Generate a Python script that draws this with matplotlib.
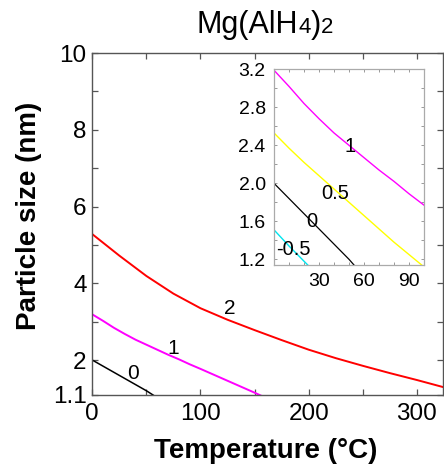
import matplotlib
matplotlib.use('Agg')
import matplotlib.pyplot as plt
from matplotlib.ticker import MultipleLocator, FixedLocator
from matplotlib.textpath import TextToPath
from matplotlib.font_manager import FontProperties

plt.rcParams['font.family'] = ['Liberation Sans', 'DejaVu Sans']

# --- Data ---
# main panel, temperature in degC, particle size in nm
red_x = [0, 25, 50, 75, 100, 125, 150, 175, 200, 225, 250, 275, 300, 325]
red_y = [5.28, 4.72, 4.19, 3.73, 3.35, 3.05, 2.78, 2.52, 2.27, 2.05, 1.85, 1.66, 1.48, 1.29]

mag_x = [0, 10, 20, 30, 40, 50, 60, 70, 80, 90, 100, 125, 150, 160]
mag_y = [3.19, 3.02, 2.84, 2.68, 2.53, 2.40, 2.27, 2.14, 2.02, 1.89, 1.77, 1.46, 1.15, 1.02]

blk_x = [0, 10, 20, 30, 40, 50, 60]
blk_y = [2.00, 1.84, 1.68, 1.52, 1.36, 1.20, 1.02]

# inset only
yel_x = [0, 10, 20, 30, 40, 50, 60, 70, 80, 90, 100]
yel_y = [2.53, 2.37, 2.22, 2.08, 1.94, 1.80, 1.66, 1.52, 1.38, 1.25, 1.12]

cyn_x = [0, 10, 20, 25]
cyn_y = [1.51, 1.34, 1.18, 1.10]

main_labels = [('2', 127, 3.35), ('1', 75, 2.30), ('0', 38, 1.65)]
inset_labels = [('1', 50.7, 2.39), ('0.5', 40.7, 1.89), ('0', 25, 1.60), ('-0.5', 12.7, 1.30)]

W, H = 444, 465
fig = plt.figure(figsize=(W / 100, H / 100), dpi=100)

# --- Main axes ---
ax = fig.add_axes([92.3 / W, 1 - 394.6 / H, (443.3 - 92.3) / W, (394.6 - 53) / H])
ax.plot(red_x, red_y, color='#ff0000', lw=1.4)
ax.plot(mag_x, mag_y, color='#ff00ff', lw=1.4)
ax.plot(blk_x, blk_y, color='black', lw=1.1)
for txt, x, y in main_labels:
    ax.text(x, y, txt, fontsize=15, ha='center', va='center')

ax.set_xlim(0, 324.4)
ax.set_ylim(1.1, 10)
ax.xaxis.set_major_locator(FixedLocator([0, 100, 200, 300]))
ax.xaxis.set_minor_locator(FixedLocator([50, 150, 250]))
ax.yaxis.set_major_locator(FixedLocator([1.1, 2, 4, 6, 8, 10]))
ax.yaxis.set_minor_locator(FixedLocator([3, 5, 7, 9]))
ax.set_yticklabels(['1.1', '2', '4', '6', '8', '10'])
ax.tick_params(which='both', direction='in', top=True, right=True, length=4,
               width=0.9, color='#555555', labelsize=17.5)
ax.tick_params(axis='x', pad=6)
ax.tick_params(axis='y', pad=4)
for s in ax.spines.values():
    s.set_color('#555555')
    s.set_linewidth(1.0)

# --- Inset ---
axi = fig.add_axes([274 / W, 1 - 265 / H, 150 / W, (265 - 69.3) / H])
axi.plot(mag_x, mag_y, color='#ff00ff', lw=1.0)
axi.plot(yel_x, yel_y, color='#ffff00', lw=1.0)
axi.plot(blk_x, blk_y, color='black', lw=0.9)
axi.plot(cyn_x, cyn_y, color='#00e5ee', lw=1.0)
for txt, x, y in inset_labels:
    axi.text(x, y, txt, fontsize=14.5, ha='center', va='center')

axi.set_xlim(0, 100)
axi.set_ylim(1.14, 3.2)
axi.xaxis.set_major_locator(FixedLocator([30, 60, 90]))
axi.xaxis.set_minor_locator(MultipleLocator(10))
axi.yaxis.set_major_locator(FixedLocator([1.2, 1.6, 2.0, 2.4, 2.8, 3.2]))
axi.yaxis.set_minor_locator(MultipleLocator(0.2))
axi.set_yticklabels(['1.2', '1.6', '2.0', '2.4', '2.8', '3.2'])
axi.tick_params(which='both', direction='in', top=True, right=True, length=2,
                width=0.7, color='#999999', labelsize=14, pad=6)
for s in axi.spines.values():
    s.set_color('#aaaaaa')
    s.set_linewidth(0.9)

# --- Axis labels ---
fig.text(265.5 / W, 1 - 458.3 / H, 'Temperature (°C)', fontsize=20,
         fontweight='bold', ha='center', va='baseline')
fig.text(29 / W, 1 - 216 / H, 'Particle size (nm)', fontsize=20,
         fontweight='bold', ha='center', va='center', rotation=90)

# --- Title: Mg(AlH4)2 with small digits sitting on the baseline ---
ttp = TextToPath()
xpos = 196.7
ybase = 1 - 33.3 / H
for piece, size in [('Mg(AlH', 22), ('4', 16), (')', 22), ('2', 16)]:
    fig.text(xpos / W, ybase, piece, fontsize=size, va='baseline', ha='left')
    w, h, d = ttp.get_text_width_height_descent(
        piece, FontProperties(family='Liberation Sans', size=size), ismath=False)
    xpos += w * 100 / 72

fig.savefig('out.png', dpi=100)
